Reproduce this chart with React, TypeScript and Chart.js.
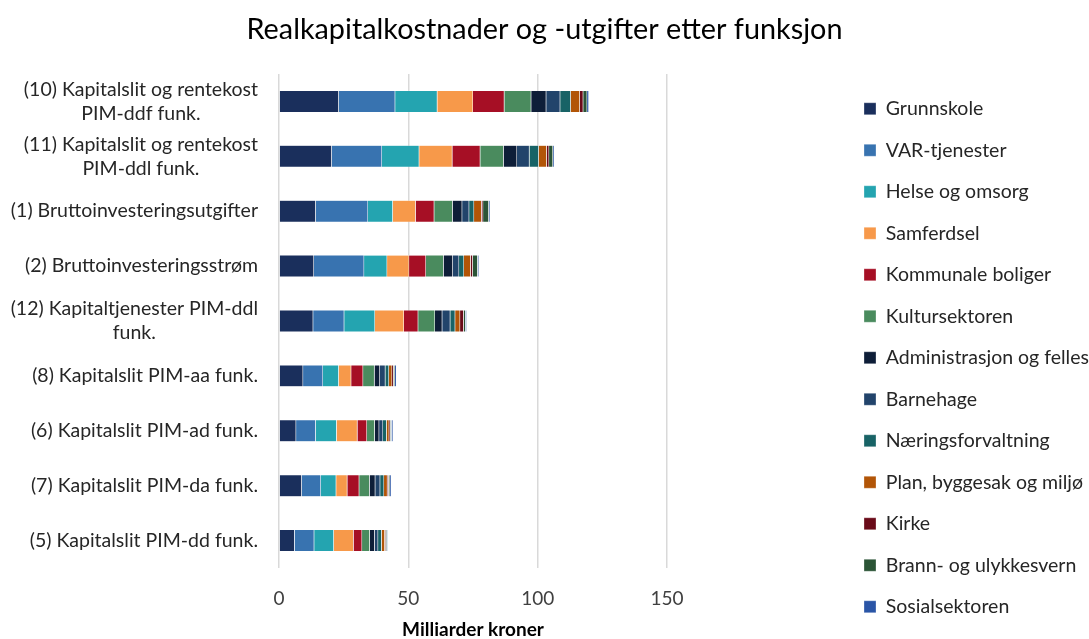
import React, { useEffect, useRef } from "react";
import { Chart, registerables } from "chart.js";

Chart.register(...registerables);

const categories: string[][] = [
  ["(10) Kapitalslit og rentekost", "PIM-ddf funk."],
  ["(11) Kapitalslit og rentekost", "PIM-ddl funk."],
  ["(1) Bruttoinvesteringsutgifter"],
  ["(2) Bruttoinvesteringsstrøm"],
  ["(12) Kapitaltjenester PIM-ddl", "funk."],
  ["(8) Kapitalslit PIM-aa funk."],
  ["(6) Kapitalslit PIM-ad funk."],
  ["(7) Kapitalslit PIM-da funk."],
  ["(5) Kapitalslit PIM-dd funk."],
];

const seriesNames = [
  "Grunnskole",
  "VAR-tjenester",
  "Helse og omsorg",
  "Samferdsel",
  "Kommunale boliger",
  "Kultursektoren",
  "Administrasjon og felles",
  "Barnehage",
  "Næringsforvaltning",
  "Plan, byggesak og miljø",
  "Kirke",
  "Brann- og ulykkesvern",
  "Sosialsektoren",
];

const grunnskole = [23.1, 20.4, 14.2, 13.5, 13.2, 9.3, 6.6, 8.8, 6.0];
const varTjenester = [21.8, 19.4, 20.2, 19.4, 12.0, 7.7, 7.6, 7.4, 7.6];
const helseOgOmsorg = [16.3, 14.4, 9.6, 8.9, 11.9, 6.1, 8.1, 5.9, 7.6];
const samferdsel = [13.8, 12.8, 8.8, 8.5, 11.2, 4.8, 8.0, 4.3, 7.6];
const kommunaleBoliger = [12.1, 10.8, 7.2, 6.5, 5.5, 4.6, 3.7, 4.6, 3.3];
const kultursektoren = [10.4, 9.0, 7.1, 6.8, 6.5, 4.4, 3.0, 4.0, 3.0];
const administrasjon = [5.8, 5.2, 3.7, 3.6, 2.8, 2.1, 1.7, 2.2, 1.9];
const barnehage = [5.4, 4.8, 2.7, 2.4, 3.1, 2.1, 1.5, 1.9, 1.3];
const naeringsforvaltning = [4.1, 3.6, 1.9, 1.9, 1.9, 1.4, 1.4, 1.5, 1.4];
const planByggesak = [3.5, 3.1, 2.9, 2.6, 1.9, 1.2, 1.0, 1.3, 1.2];
const kirke = [1.3, 0.9, 0.6, 0.8, 1.4, 0.6, 0.5, 0.5, 0.4];
const brann = [1.5, 1.5, 2.2, 1.9, 0.7, 0.5, 0.4, 0.5, 0.4];
const sosialsektoren = [0.7, 0.5, 0.5, 0.5, 0.5, 0.6, 0.6, 0.5, 0.3];

const seriesValues = [
  grunnskole,
  varTjenester,
  helseOgOmsorg,
  samferdsel,
  kommunaleBoliger,
  kultursektoren,
  administrasjon,
  barnehage,
  naeringsforvaltning,
  planByggesak,
  kirke,
  brann,
  sosialsektoren,
];

const seriesColors = [
  "#1a2f5c",
  "#3873b0",
  "#24a4b0",
  "#f7994a",
  "#a60f25",
  "#4a8b5e",
  "#0e1e38",
  "#22446b",
  "#186366",
  "#b25507",
  "#6a0b19",
  "#2b5436",
  "#2a55a6",
];

const xMin = 0;
const xMax = 150;
const xStep = 50;
const chartTitle = "Realkapitalkostnader og -utgifter etter funksjon";
const xTitle = "Milliarder kroner";

const FONT = "Lato";
const LABEL_SIZE = 19.5;
const LEGEND_SIZE = 19.5;
const LEGEND_PAD = 22;
const TITLE_SIZE = 28.8;

const yLabelPlugin = {
  id: "yLabelPlugin",
  afterDraw(chart: any) {
    const { ctx, chartArea } = chart;
    const y = chart.scales.y;
    ctx.save();
    ctx.font = `${LABEL_SIZE}px ${FONT}`;
    ctx.fillStyle = "#262626";
    ctx.textAlign = "center";
    ctx.textBaseline = "middle";
    const right = chartArea.left - 21;
    const lh = 24;
    categories.forEach((lines, i) => {
      const yc = y.getPixelForValue(i);
      const w = Math.max(...lines.map((l) => ctx.measureText(l).width));
      const cx = right - w / 2;
      lines.forEach((l, j) => {
        ctx.fillText(l, cx, yc + (j - (lines.length - 1) / 2) * lh);
      });
    });
    ctx.restore();
  },
};

export default function App() {
  const ref = useRef<HTMLCanvasElement | null>(null);

  useEffect(() => {
    if (!ref.current) return;
    const chart = new Chart(ref.current, {
      type: "bar",
      data: {
        labels: categories.map((c) => c.join(" ")),
        datasets: seriesNames.map((name, i) => ({
          label: name,
          data: seriesValues[i],
          backgroundColor: seriesColors[i],
          borderColor: "rgba(255,255,255,0.6)",
          borderWidth: 0.5,
          barPercentage: 0.4,
          categoryPercentage: 1,
        })),
      },
      options: {
        indexAxis: "y",
        responsive: false,
        animation: false,
        layout: { padding: 0 },
        font: { family: FONT },
        plugins: {
          tooltip: { enabled: false },
          title: {
            display: true,
            text: chartTitle,
            color: "#000000",
            font: { family: FONT, size: TITLE_SIZE, weight: "normal", lineHeight: 1.2 },
            padding: { top: 12.7, bottom: 26.7 },
          },
          legend: {
            position: "right",
            align: "start",
            maxWidth: 247,
            title: {
              display: true,
              text: "",
              font: { family: FONT, size: 10, lineHeight: 1 },
              padding: { top: 67, bottom: 0 },
            },
            labels: {
              boxWidth: 12,
              boxHeight: 12,
              padding: LEGEND_PAD,
              color: "#262626",
              font: { family: FONT, size: LEGEND_SIZE },
            },
          },
        },
        scales: {
          x: {
            type: "linear",
            stacked: true,
            min: xMin,
            max: xMax,
            ticks: {
              stepSize: xStep,
              padding: 19,
              color: "#404040",
              font: { family: FONT, size: 19 },
            },
            grid: { color: "#d9d9d9", lineWidth: 1.5, drawTicks: false },
            border: { display: false },
            title: {
              display: true,
              text: xTitle,
              color: "#000000",
              font: { family: FONT, size: 19, weight: "bold", lineHeight: 1 },
              padding: { top: 0, bottom: 0 },
            },
            afterFit: (s: any) => {
              s.height = 71;
            },
          },
          y: {
            type: "category",
            stacked: true,
            ticks: { display: false },
            grid: { display: false },
            border: { display: false },
            afterFit: (s: any) => {
              s.width = 279;
            },
          },
          y2: {
            type: "category",
            position: "right",
            display: true,
            ticks: { display: false },
            grid: { display: false },
            border: { display: false },
            afterFit: (s: any) => {
              s.width = 864 - LEGEND_PAD - 667;
            },
          },
        },
      } as any,
      plugins: [yLabelPlugin],
    });
    return () => chart.destroy();
  }, []);

  return (
    <div
      style={{
        position: "absolute",
        left: 0,
        top: 0,
        width: 1089,
        height: 639,
        background: "#ffffff",
      }}
    >
      <canvas
        ref={ref}
        width={1089}
        height={639}
        style={{ display: "block", width: 1089, height: 639 }}
      />
    </div>
  );
}
